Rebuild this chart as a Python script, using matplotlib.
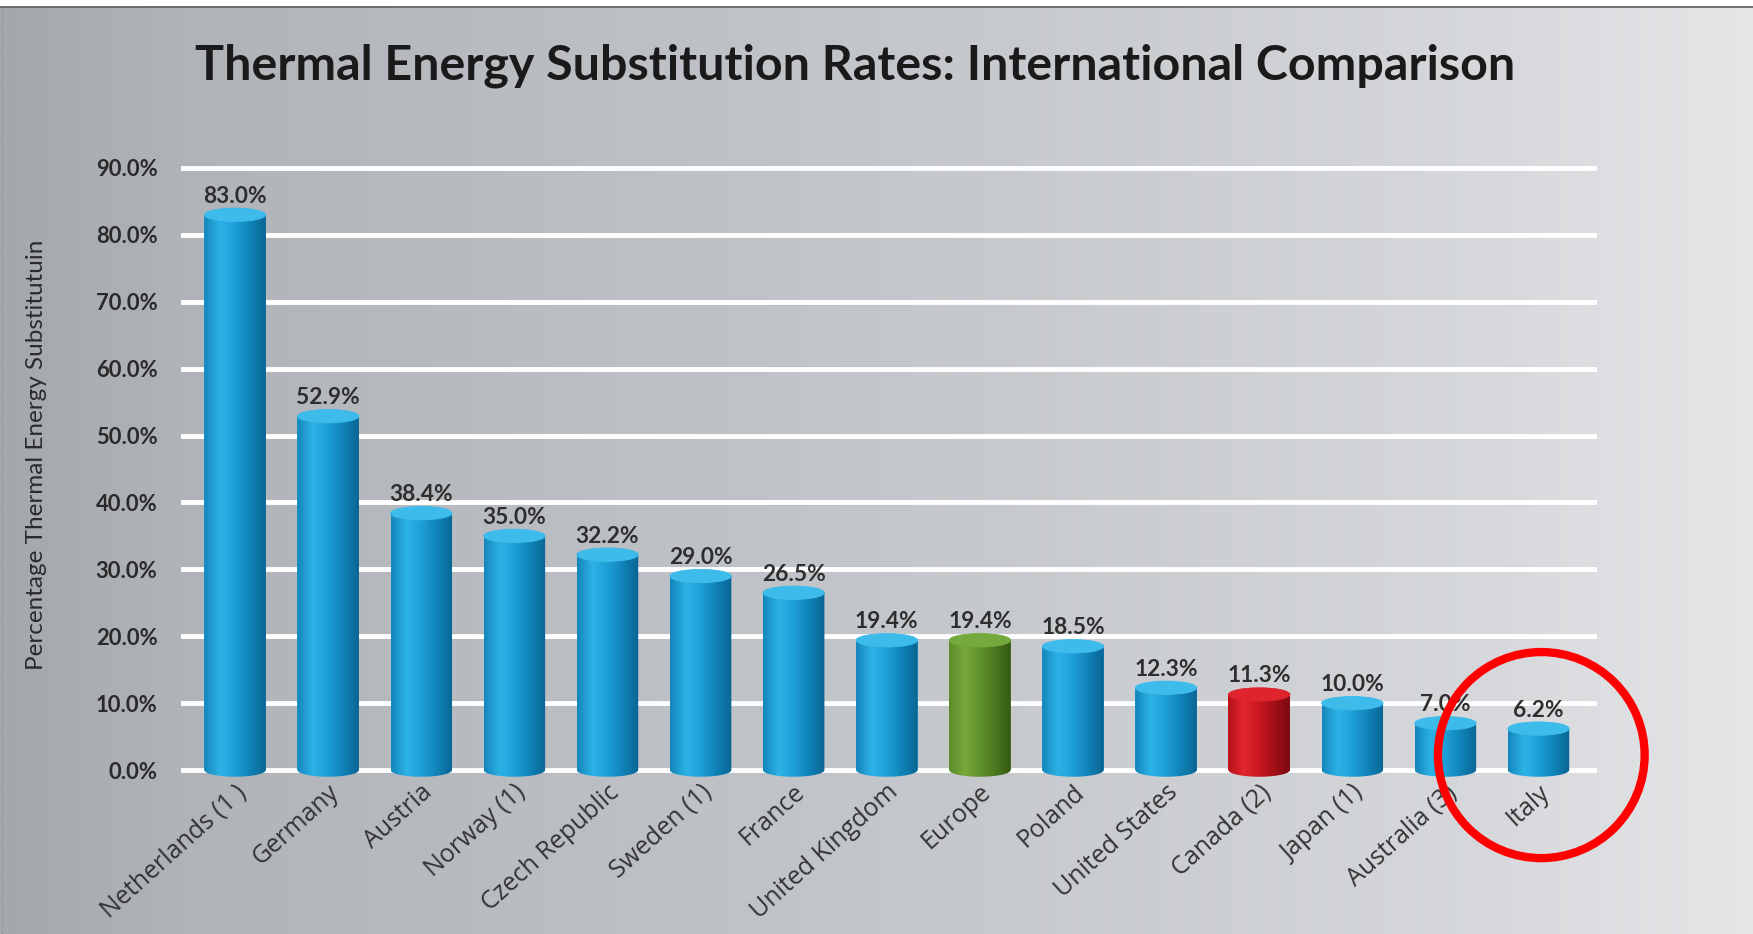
import numpy as np
import matplotlib
matplotlib.use('Agg')
import matplotlib.pyplot as plt
from matplotlib import font_manager as fm
from matplotlib.patches import Ellipse, Rectangle
from matplotlib.path import Path
from matplotlib.colors import LinearSegmentedColormap
from matplotlib.transforms import ScaledTranslation

countries = ['Netherlands (1 )', 'Germany', 'Austria', 'Norway (1)', 'Czech Republic',
             'Sweden (1)', 'France', 'United Kingdom', 'Europe', 'Poland',
             'United States', 'Canada (2)', 'Japan (1)', 'Australia (3)', 'Italy']
rates = [83.0, 52.9, 38.4, 35.0, 32.2, 29.0, 26.5, 19.4, 19.4, 18.5, 12.3, 11.3, 10.0, 7.0, 6.2]
bar_kind = ['blue'] * 8 + ['green'] + ['blue'] * 2 + ['red'] + ['blue'] * 3
yticks = [0, 10, 20, 30, 40, 50, 60, 70, 80, 90]
highlight = 'Italy'

title = 'Thermal Energy Substitution Rates: International Comparison'
ylabel = 'Percentage Thermal Energy Substitutuin'

# cylinder shading, left edge -> right edge
shades = {
    'blue': ['#1586bb', '#2db3e7', '#1d9fd7', '#1082b8', '#0a6693'],
    'green': ['#5d8d2b', '#77a93b', '#5f902c', '#4a7820', '#365a14'],
    'red': ['#b5121a', '#e2262e', '#ca171f', '#a21017', '#7c0a10'],
}
tops = {'blue': '#3dbbeb', 'green': '#76a93d', 'red': '#de242d'}

names = {f.name for f in fm.fontManager.ttflist}
if 'Lato' in names:
    narrow, k = 'Lato', 1.13
else:
    narrow, k = 'DejaVu Sans', 1.0
label_font = next((f for f in ['Open Sans', 'Noto Sans', 'Lato'] if f in names), 'DejaVu Sans')

W, H = 1753, 934
fig = plt.figure(figsize=(W / 100, H / 100), dpi=100)

# background panel with horizontal gradient
bg = fig.add_axes([0, 0, 1, 1], zorder=-5)
bg_cmap = LinearSegmentedColormap.from_list(
    'bg', [(0, '#a4a8ad'), (0.1, '#b0b3b8'), (0.5, '#c3c6ca'), (0.85, '#d6d8db'), (1, '#e5e6e8')])
bg.imshow(np.linspace(0, 1, 256).reshape(1, -1), cmap=bg_cmap, extent=(0, W, H, 0), aspect='auto')
bg.add_patch(Rectangle((0, 0), W, 6, color='white'))
bg.plot([0, W], [6.5, 6.5], color='#5a5a5a', lw=1.2)
bg.plot([2, 2], [8, H], color='#8a8a8a', lw=0.8, ls=':')
bg.set_xlim(0, W)
bg.set_ylim(H, 0)
bg.axis('off')

ax = fig.add_axes([0.1033, 0.1612, 0.8078, 0.6733])
ax.patch.set_alpha(0)
n = len(rates)
bw = 0.66
eh = 2.0
xs = np.arange(n)
bars = ax.bar(xs, rates, bw, color=[shades[c][2] for c in bar_kind], zorder=3)

grad = np.linspace(0, 1, 64).reshape(1, -1)
t = np.linspace(np.pi, 2 * np.pi, 40)
for x, v, kind in zip(xs, rates, bar_kind):
    x0, x1 = x - bw / 2, x + bw / 2
    cmap = LinearSegmentedColormap.from_list(kind, shades[kind])
    im = ax.imshow(grad, cmap=cmap, extent=(x0, x1, -eh / 2, v), aspect='auto', zorder=3.1)
    verts = [(x0, v), (x0, 0)] + list(zip(x + bw / 2 * np.cos(t), eh / 2 * np.sin(t))) + [(x1, v), (x0, v)]
    im.set_clip_path(Path(verts, closed=True), ax.transData)
    ax.add_patch(Ellipse((x, v), bw, eh, facecolor=tops[kind], edgecolor=tops[kind], lw=0.6, zorder=4))
    ax.text(x, v + 1.2, f'{v:.1f}%', ha='center', va='bottom', fontsize=14.5 * k,
            family=narrow, weight='bold', color='#2e2e2e', zorder=5)

ax.set_xlim(-0.58, n - 1 + 0.63)
ax.set_ylim(-2, 92)
ax.set_yticks(yticks)
ax.set_yticklabels([f'{v:.1f}%' for v in yticks], family=narrow, weight='bold',
                   fontsize=14 * k, color='#2a2a2a')
ax.yaxis.grid(True, color='white', lw=3.5)
ax.set_axisbelow(True)
ax.set_xticks(xs)
ax.set_xticklabels(countries, rotation=42, ha='right', va='center', rotation_mode='anchor',
                   fontsize=18, family=label_font, color='#333333')
ax.tick_params(axis='y', length=0, pad=17)
ax.tick_params(axis='x', length=0, pad=4)
shift = ScaledTranslation(8 / 100, 0, fig.dpi_scale_trans)
for lbl in ax.get_xticklabels():
    lbl.set_transform(lbl.get_transform() + shift)
for s in ax.spines.values():
    s.set_visible(False)

# red ring around the highlighted bar
hi = countries.index(highlight)
ax.add_patch(Ellipse((hi + 0.03, 2.24), 2.22, 30.8, fill=False, edgecolor='#ff0000',
                     lw=6, zorder=10, clip_on=False))

fig.text(0.488, 0.93, title, ha='center', va='center', fontsize=30.8 * k,
         weight='bold', family=narrow, color='#1a1a1a')
fig.text(0.021, 0.513, ylabel, rotation=90, ha='center', va='center',
         fontsize=15.5 * k, family=narrow, color='#2b2b2b')

fig.savefig('out.png', dpi=100)
